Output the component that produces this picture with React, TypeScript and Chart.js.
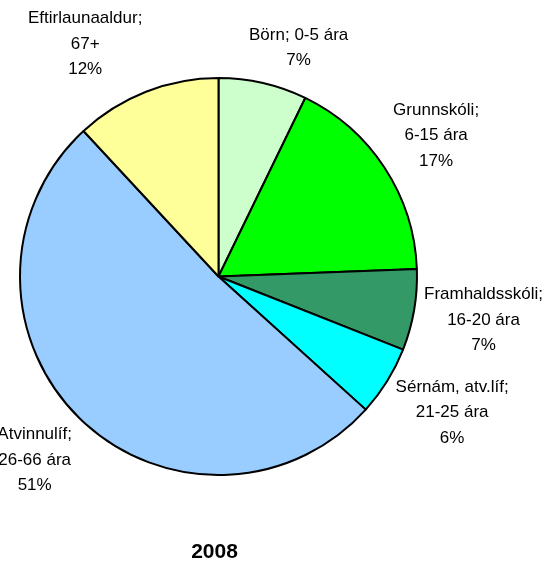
import React, { useEffect, useRef } from "react";
import { Chart, registerables } from "chart.js";

Chart.register(...registerables);

const categories = ["Börn", "Grunnskóli", "Framhaldsskóli", "Sérnám, atv.líf", "Atvinnulíf", "Eftirlaunaaldur"];
const ageRanges = ["0-5 ára", "6-15 ára", "16-20 ára", "21-25 ára", "26-66 ára", "67+"];
const shares = [7.2, 17.2, 6.6, 5.7, 51.4, 11.9];
const sliceColors = ["#CCFFCC", "#00FF00", "#339966", "#00FFFF", "#99CCFF", "#FFFF99"];
const yearTitle = "2008";

const FONT = "Arial, 'Liberation Sans', sans-serif";

const labelPlugin = {
  id: "pieLabels",
  afterDatasetsDraw(chart: any) {
    const ctx = chart.ctx;
    const meta = chart.getDatasetMeta(0);
    const data = chart.data.datasets[0].data as number[];
    const total = data.reduce((a: number, b: number) => a + b, 0);
    const lineH = 25.5;
    ctx.save();
    ctx.font = `17px ${FONT}`;
    ctx.fillStyle = "#000";
    ctx.textAlign = "center";
    ctx.textBaseline = "middle";
    let cx = 0;
    meta.data.forEach((arc: any, i: number) => {
      const { x, y, startAngle, endAngle, outerRadius } = arc.getProps(
        ["x", "y", "startAngle", "endAngle", "outerRadius"],
        true
      );
      cx = x;
      const mid = (startAngle + endAngle) / 2;
      const R = outerRadius + 10;
      const px = x + Math.cos(mid) * R;
      const py = y + Math.sin(mid) * R;
      const pct = Math.round((data[i] / total) * 100) + "%";
      const lines =
        i === 0
          ? [categories[i] + "; " + ageRanges[i], pct]
          : [categories[i] + ";", ageRanges[i], pct];
      const w = Math.max(...lines.map((l) => ctx.measureText(l).width));
      const h = lines.length * lineH;
      const c = Math.cos(mid);
      const s = Math.sin(mid);
      const lx = px + Math.sign(c) * Math.min(1, 3 * Math.abs(c)) * (w / 2);
      const ly = py + Math.sign(s) * Math.min(1, 1.3 * Math.abs(s)) * (h / 2);
      lines.forEach((l, k) => {
        ctx.fillText(l, lx, ly - h / 2 + lineH / 2 + k * lineH);
      });
    });
    ctx.font = `bold 21px ${FONT}`;
    ctx.fillText(yearTitle, cx - 4, chart.chartArea.bottom + 76);
    ctx.restore();
  },
};

export default function App() {
  const ref = useRef<HTMLCanvasElement>(null);
  useEffect(() => {
    if (!ref.current) return;
    const chart = new Chart(ref.current, {
      type: "pie",
      data: {
        labels: categories,
        datasets: [
          {
            data: shares,
            backgroundColor: sliceColors,
            borderColor: "#000",
            borderWidth: 2,
          },
        ],
      },
      options: {
        responsive: false,
        animation: false,
        layout: { padding: { left: 19, right: 133, top: 77, bottom: 86 } },
        plugins: {
          legend: { display: false },
          tooltip: { enabled: false },
          title: { display: false },
        },
      },
      plugins: [labelPlugin],
    });
    return () => chart.destroy();
  }, []);
  return (
    <div style={{ position: "absolute", left: 0, top: 0, width: 551, height: 562, background: "#fff" }}>
      <canvas ref={ref} width={551} height={562} />
    </div>
  );
}
